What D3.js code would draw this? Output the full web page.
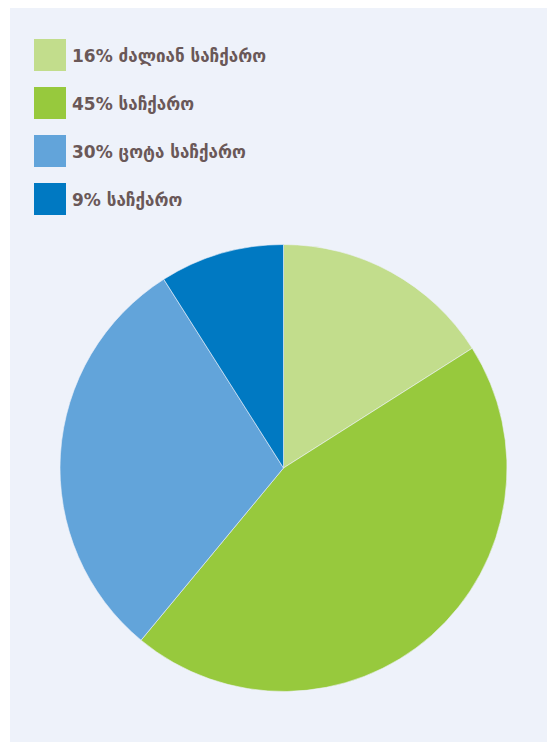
<!DOCTYPE html>
<html>
<head>
<meta charset="utf-8">
<script src="https://cdn.jsdelivr.net/npm/d3@7/dist/d3.min.js"></script>
<style>
  html, body { margin: 0; padding: 0; background: #ffffff; }
  svg { display: block; }
</style>
</head>
<body>
<svg id="chart" width="547" height="742"></svg>
<script>
// Share of respondents by answer (percent)
const categories = ["ძალიან საჩქარო", "საჩქარო", "ცოტა საჩქარო", "საჩქარო"];
const values = [16, 45, 30, 9];
const labels = ["16% ძალიან საჩქარო", "45% საჩქარო", "30% ცოტა საჩქარო", "9% საჩქარო"];
const colors = ["#c2dd8c", "#97c93d", "#62a4da", "#0079c2"];

const svg = d3.select("#chart");

// panel background
svg.append("rect")
  .attr("x", 10).attr("y", 8)
  .attr("width", 537).attr("height", 734)
  .attr("fill", "#eef2fa");

// pie
const cx = 283.5, cy = 468, r = 223.5;
const pie = d3.pie().sort(null).value(d => d)(values);
const arc = d3.arc().innerRadius(0).outerRadius(r);

svg.append("g")
  .attr("transform", `translate(${cx},${cy})`)
  .selectAll("path")
  .data(pie)
  .join("path")
  .attr("d", arc)
  .attr("fill", (d, i) => colors[i])
  .attr("stroke", "#eef2fa")
  .attr("stroke-width", 0.6);

// legend
const legend = svg.append("g")
  .attr("transform", "translate(34,39)");

const item = legend.selectAll("g")
  .data(labels)
  .join("g")
  .attr("transform", (d, i) => `translate(0,${i * 48})`);

item.append("rect")
  .attr("width", 32).attr("height", 32)
  .attr("fill", (d, i) => colors[i]);

item.append("text")
  .attr("x", 38).attr("y", 23)
  .attr("font-family", "'DejaVu Sans', 'Noto Sans', sans-serif")
  .attr("font-weight", "bold")
  .attr("font-size", 17)
  .attr("fill", "#6a5858")
  .text(d => d);
</script>
</body>
</html>
